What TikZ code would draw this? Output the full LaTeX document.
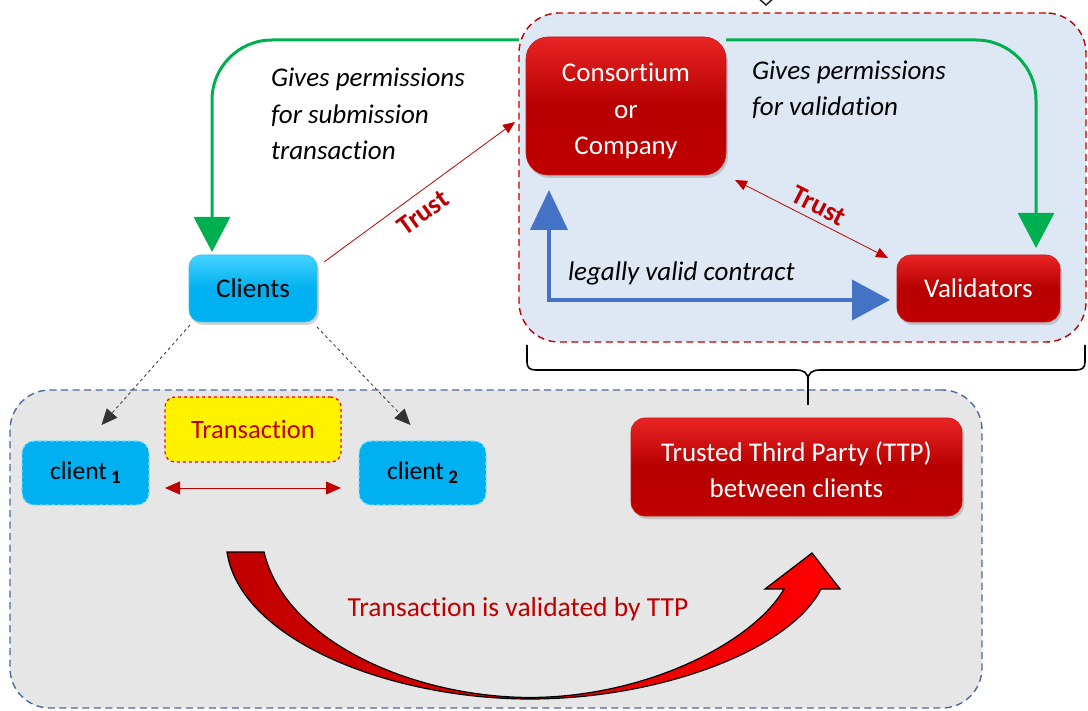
\documentclass[tikz,border=0pt]{standalone}
\usepackage{fontspec}
\setmainfont{Carlito}[Ligatures=NoCommon]
\usetikzlibrary{arrows.meta,shadows}
\definecolor{dred}{HTML}{C00000}
\definecolor{boxred}{HTML}{C00000}
\definecolor{boxredtop}{HTML}{E82424}
\definecolor{cyanbox}{HTML}{00B0F0}
\definecolor{cyantop}{HTML}{45D2FF}
\definecolor{lblue}{HTML}{DDE8F4}
\definecolor{lgray}{HTML}{E6E6E6}
\definecolor{slateb}{HTML}{4A6AA0}
\definecolor{pgreen}{HTML}{00B050}
\definecolor{pblue}{HTML}{4472C4}
\begin{document}
\begin{tikzpicture}[x=1pt,y=-1pt,
  every node/.style={font=\fontsize{27}{36.5}\selectfont, outer sep=0pt},
  container/.style={rounded corners=40pt, line width=1.4pt, dash pattern=on 7pt off 4.5pt, inner sep=0pt},
  redbox/.style={rounded corners=14pt, top color=boxredtop, bottom color=boxred, middle color=boxred!95!black,
     draw=boxred!90!white, line width=0.6pt, text=white, align=center, inner sep=0pt,
     drop shadow={opacity=0.35, shadow xshift=2pt, shadow yshift=-3pt}},
  cyanbox/.style={rounded corners=12pt, top color=cyantop, bottom color=cyanbox, middle color=cyanbox,
     draw=cyanbox!80!white, line width=0.6pt, text=black, align=center, inner sep=0pt,
     drop shadow={opacity=0.35, shadow xshift=2pt, shadow yshift=-3pt}},
  clientbox/.style={rounded corners=12pt, fill=cyanbox, draw=cyantop!70!white, dashed, line width=1.2pt,
     text=black, inner sep=0pt, font=\fontsize{25.5}{28}\selectfont},
  lbl/.style={font=\itshape\fontsize{27}{36.5}\selectfont, inner sep=0pt, align=left},
  trustlbl/.style={font=\bfseries\fontsize{27.5}{30}\selectfont, text=dred, inner sep=0pt},
  greenarrow/.style={draw=pgreen, line width=3pt, rounded corners=60pt, -{Triangle[width=36pt,length=35pt]}},
  bluearrow/.style={draw=pblue, line width=4pt, {Triangle[width=37pt,length=40pt]}-{Triangle[width=40pt,length=38pt]}},
  thinred/.style={draw=dred, line width=0.8pt},
  dasharrow/.style={draw=black!80, line width=0.8pt, dashed, -{Triangle[width=14pt,length=16pt]}}
]
\useasboundingbox (0,0) rectangle (1088,711);

% containers
\node[container, fill=lblue, draw=dred, minimum width=567pt, minimum height=329pt] (bb) at (802.5,177.5) {};
\node[container, fill=lgray, draw=slateb, minimum width=972pt, minimum height=318pt] (gb) at (496,549) {};

% fragment of brace at top
\draw[line width=1.5pt, black!85] (757,-3) -- (766,5) -- (775,-3);

% brace under blue container
\draw[line width=1.6pt] ([xshift=8pt,yshift=-3pt]bb.south west) -- (527,362) .. controls (527,368) and (530,370) .. (536,370)
  -- (796,370) .. controls (804,370) and (808,373) .. (808,380) -- (808,405);
\draw[line width=1.6pt] ([xshift=-1pt,yshift=-3pt]bb.south east) -- (1085,362) .. controls (1085,368) and (1082,370) .. (1076,370)
  -- (820,370) .. controls (812,370) and (808,373) .. (808,380);

% nodes
\node[redbox, minimum width=200pt, minimum height=138pt, rounded corners=22pt] (cons) at (626,106) {};
\node[text=white, align=center, inner sep=0pt] (constext) at (626,111) {Consortium\\or\\Company};
\node[redbox, minimum width=163pt, minimum height=67pt] (val) at (978.5,288.5) {Validators};
\node[cyanbox, minimum width=128pt, minimum height=67pt] (cli) at (253,288.5) {Clients};
\node[clientbox, minimum width=127pt, minimum height=64pt] (c1) at (85.5,473) {client\,\raisebox{-4pt}{\fontsize{19}{19}\selectfont\bfseries 1}};
\node[clientbox, minimum width=127pt, minimum height=64pt] (c2) at (422.5,473) {client\,\raisebox{-4pt}{\fontsize{19}{19}\selectfont\bfseries 2}};
\node[rounded corners=10pt, fill=yellow, draw=red, dashed, line width=1.2pt, text=dred, inner sep=0pt,
      minimum width=176pt, minimum height=65pt, font=\fontsize{26.5}{30}\selectfont] (tr) at (253,429.5) {Transaction};
\node[redbox, minimum width=331pt, minimum height=98pt] (ttp) at (796.5,467) {};
\node[text=white, align=center, inner sep=0pt] (ttptext) at (796.5,469.5) {Trusted Third Party (TTP)\\between clients};

% green arrows
\coordinate (gl) at (519,40);
\draw[greenarrow] (gl) -| ([xshift=-41pt,yshift=3pt]cli.north);
\draw[greenarrow] ([yshift=-3pt]cons.north east) -| ([xshift=57.5pt,yshift=7pt]val.north);

% blue arrow
\draw[bluearrow] ([xshift=-77pt,yshift=-15pt]cons.south) |- ([xshift=-7pt,yshift=-11.5pt]val.west);

% trust arrows
\draw[thinred, -{Triangle[width=10pt,length=12pt]}] ([shift={(7,7)}]cli.north east) -- ([shift={(-11,16)}]cons.west);
\draw[thinred, {Triangle[width=10pt,length=12pt]}-{Triangle[width=10pt,length=12pt]}] ([shift={(9,5)}]cons.south east) -- ([shift={(-9,3)}]val.north west);
\node[trustlbl, rotate=36] (tl1) at (423,213) {Trust};
\node[trustlbl, rotate=-27] (tl2) at (819,206) {Trust};

% dashed arrows to clients
\draw[dasharrow] ([shift={(1,3)}]cli.south west) -- ([shift={(16,-16)}]c1.north);
\draw[dasharrow] ([shift={(0,5)}]cli.south east) -- ([shift={(-12,-16)}]c2.north);

% transaction double arrow
\draw[thinred, {Triangle[width=13pt,length=15pt]}-{Triangle[width=13pt,length=15pt]}] ([shift={(16,15)}]c1.east) -- ([shift={(-18,15)}]c2.west);

% labels
\node[lbl, anchor=west] (l1) at (271,114) {Gives permissions\\for submission\\transaction};
\node[lbl, anchor=west] (l2) at (752,90) {Gives permissions\\for validation};
\node[lbl, anchor=west] (l3) at (568,273) {legally valid contract};

% big curved arrow
\path[draw=black, line width=1.2pt, left color=dred, right color=red]
 (227,552) .. controls (240,640) and (390,699) .. (530,699) .. controls (660,699) and (790,650) .. (821,589)
 -- (840,589) -- (812,553) -- (765,589) -- (784,589)
 .. controls (755,640) and (650,697) .. (530,697.5) .. controls (410,697) and (285,640) .. (264,552) -- cycle;
\node[text=dred, inner sep=0pt, font=\fontsize{27.5}{30}\selectfont] (vt) at (518,609) {Transaction is validated by TTP};
\end{tikzpicture}
\end{document}
